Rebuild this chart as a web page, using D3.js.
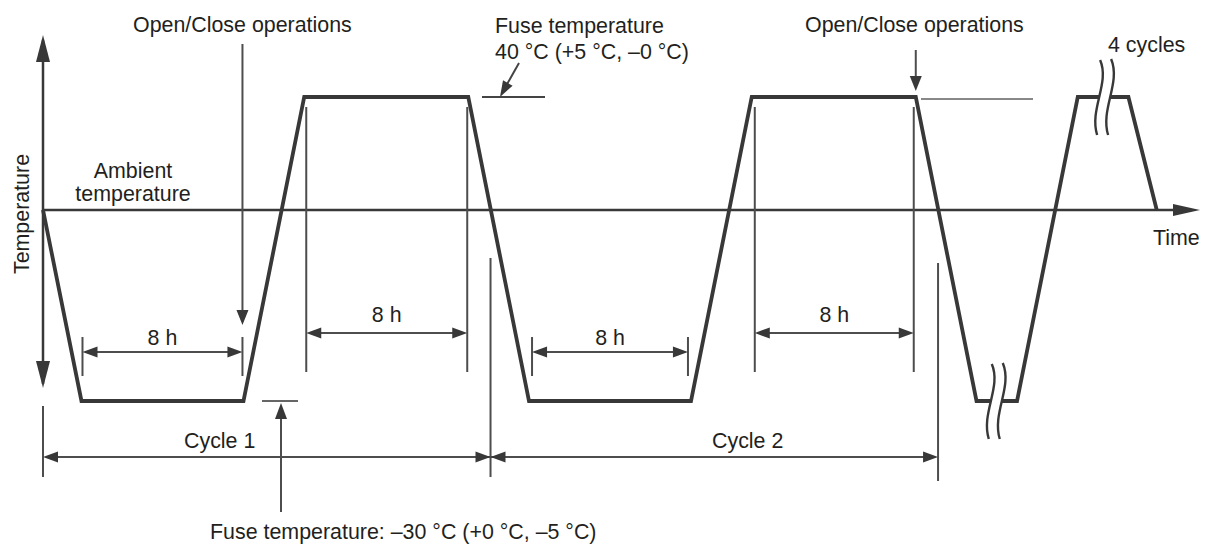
<!DOCTYPE html>
<html>
<head>
<meta charset="utf-8">
<script src="https://cdn.jsdelivr.net/npm/d3@7"></script>
<style>
  body { margin: 0; background: #fff; }
  svg { display: block; }
  text { font-family: "Liberation Sans", Arial, sans-serif; font-size: 21.4px; fill: #231f20; }
</style>
</head>
<body>
<script>
const width = 1209;
const height = 545;

// temperature profile (hours, °C)
const hours = [0, 1.9, 9.9, 12.9, 21.0, 24.0, 32.0, 35.0, 43.1, 46.1, 48.1, 51.1, 53.6, 55.0];
const tempC = [14, -30, -30, 40, 40, -30, -30, 40, 40, -30, -30, 40, 40, 14];

const cycleBounds = [0, 22.1, 44.2];
const cycleLabels = ['Cycle 1', 'Cycle 2'];
const coldHolds = [[1.95, 9.85], [24.15, 31.85]];
const hotHolds = [[13.0, 20.95], [35.15, 43.0]];
const holdLabel = '8 h';
const openClose = [9.85, 43.1];
const breaks = [[52.45, 40], [47.1, -30]];

const xScale = d3.scaleLinear().domain([0, 24]).range([43, 529]);
const yScale = d3.scaleLinear().domain([-30, 40]).range([401, 97]);

const svg = d3.select('body').append('svg')
    .attr('width', width)
    .attr('height', height);

const thin = '#4d4d4d';
const dark = '#383838';

// filled arrow head, tip at (x, y), pointing along (dx, dy)
function head(x, y, dx, dy, len = 15, wid = 11, color = dark) {
    const n = Math.hypot(dx, dy);
    const ux = dx / n, uy = dy / n;
    const bx = x - ux * len, by = y - uy * len;
    const px = -uy * wid / 2, py = ux * wid / 2;
    svg.append('path')
        .attr('d', `M${x},${y}L${bx + px},${by + py}L${bx - px},${by - py}Z`)
        .attr('fill', color);
}

function seg(x1, y1, x2, y2, color = thin, w = 2) {
    svg.append('line')
        .attr('x1', x1).attr('y1', y1).attr('x2', x2).attr('y2', y2)
        .attr('stroke', color).attr('stroke-width', w);
}

function label(x, y, t, anchor = 'start') {
    return svg.append('text').attr('x', x).attr('y', y)
        .attr('text-anchor', anchor).text(t);
}

// axes
const x0 = xScale(0);
const yAmb = yScale(tempC[0]);
seg(x0, yScale(53), x0, yScale(-26), dark, 2.5);
head(x0, 35, 0, -1, 27, 14);
head(x0, 388, 0, 1, 27, 14);
seg(x0, yAmb, 1180, yAmb, dark, 2.5);
head(1200, yAmb, 1, 0, 27, 12);

// hot hold dimension verticals + arrows
hotHolds.forEach(([a, b]) => {
    const xa = xScale(a), xb = xScale(b);
    seg(xa, 107, xa, 372);
    seg(xb, 107, xb, 372);
    seg(xa + 5, 333, xb - 5, 333);
    head(xa, 333, -1, 0);
    head(xb, 333, 1, 0);
    label((xa + xb) / 2, 322, holdLabel, 'middle');
});

// cold hold dimensions
coldHolds.forEach(([a, b]) => {
    const xa = xScale(a), xb = xScale(b);
    seg(xa, 337, xa, 376);
    seg(xb, 337, xb, 376);
    seg(xa + 5, 352, xb - 5, 352);
    head(xa, 352, -1, 0);
    head(xb, 352, 1, 0);
    label((xa + xb) / 2, 345, holdLabel, 'middle');
});

// cycle dimension
const cx = cycleBounds.map(xScale);
seg(cx[0], 406, cx[0], 477);
seg(cx[1], 258, cx[1], 477);
seg(cx[2], 263, cx[2], 481);
seg(cx[0] + 5, 457, cx[2] - 5, 457);
head(cx[0], 457, -1, 0);
head(cx[1], 457, 1, 0);
head(cx[1], 457, -1, 0);
head(cx[2], 457, 1, 0);
label(184, 448, cycleLabels[0]);
label(712, 448, cycleLabels[1]);

// open/close operation arrows
const oc = openClose.map(xScale);
seg(oc[0], 44, oc[0], 312);
head(oc[0], 325, 0, 1, 15, 12);
label(133, 32, 'Open/Close operations');
seg(oc[1], 50, oc[1], 80);
head(oc[1], 91, 0, 1, 15, 12);
label(805, 32, 'Open/Close operations');

// fuse temperature markers
const yHot = yScale(40), yCold = yScale(-30);
seg(482, yHot, 545, yHot, '#444', 2);
seg(519, 63, 506, 86, '#444', 2);
head(500, yHot, -19, 34, 16, 11);
label(495, 33, 'Fuse temperature');
label(495, 59, '40 °C (+5 °C, –0 °C)');
seg(921, yHot + 2, 1033, yHot + 2, '#888', 2);

seg(262, yCold, 298, yCold, '#666', 1.8);
seg(281, 512, 281, 415);
head(281, 403, 0, -1, 16, 12);
label(210, 539, 'Fuse temperature: –30 °C (+0 °C, –5 °C)');

// profile
const line = d3.line()
    .x((d, i) => xScale(hours[i]))
    .y(d => yScale(d));
svg.append('path')
    .datum(tempC)
    .attr('d', line)
    .attr('fill', 'none')
    .attr('stroke', dark)
    .attr('stroke-width', 3.8)
    .attr('stroke-linejoin', 'miter');

// break marks
breaks.forEach(([h, t]) => {
    const bx = xScale(h), by = yScale(t);
    const l = `M${bx - 5},${by - 37}C${bx + 5},${by - 14} ${bx - 16},${by + 12} ${bx - 8},${by + 38}`;
    const r = `M${bx + 6},${by - 38}C${bx + 16},${by - 14} ${bx - 5},${by + 12} ${bx + 3},${by + 38}`;
    const fill = l + `L${bx + 3},${by + 38}C${bx - 5},${by + 12} ${bx + 16},${by - 14} ${bx + 6},${by - 38}Z`;
    svg.append('path').attr('d', fill).attr('fill', '#fff');
    [l, r].forEach(d => svg.append('path').attr('d', d)
        .attr('fill', 'none').attr('stroke', dark).attr('stroke-width', 2.4));
});

// texts
label(133, 178, 'Ambient', 'middle');
label(133, 201, 'temperature', 'middle');
label(1153, 245, 'Time');
label(1108, 52, '4 cycles');
svg.append('text')
    .attr('transform', 'translate(29,214) rotate(-90)')
    .attr('text-anchor', 'middle')
    .text('Temperature');
// source mark, cut by the bottom edge as in the original
svg.append('text')
    .attr('x', 1182).attr('y', 555)
    .style('font-size', '15px')
    .style('font-style', 'italic')
    .style('fill', '#555')
    .text('IEC');
</script>
</body>
</html>
